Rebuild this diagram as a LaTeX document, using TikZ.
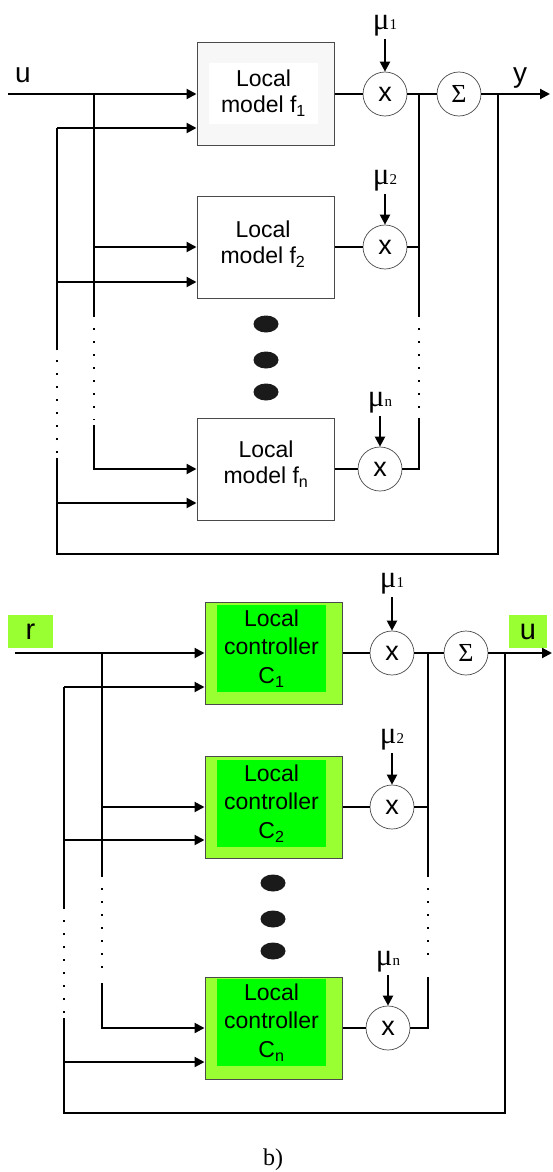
\documentclass[tikz,border=0pt]{standalone}
\usepackage{fontspec}
\setmainfont{Liberation Sans}
\newfontfamily\serif{Liberation Serif}
\usetikzlibrary{arrows.meta}

\definecolor{ctrlouter}{HTML}{99FF33}
\definecolor{ctrlinner}{HTML}{00FF00}
\definecolor{rimgray}{HTML}{4A4A4A}
\definecolor{blobgray}{HTML}{1A1A1A}

\newcommand*{\boxfont}{\fontsize{23}{26}\selectfont}
\newcommand*{\ctrlfont}{\fontsize{23}{28.5}\selectfont}
\newcommand*{\mulabel}[1]{{\serif\fontsize{31}{31}\selectfont μ}{\serif\fontsize{15}{15}\selectfont #1}}

\begin{document}
\begin{tikzpicture}
[
	x=1pt, y=-1pt,
	sig/.style={line width=2.1pt},
	dotline/.style={line width=2.1pt, dash pattern=on 2pt off 11pt},
	modelbox/.style={draw=rimgray, line width=1pt, fill=white, minimum width=137pt, minimum height=102pt, inner sep=0pt},
	ctrlbox/.style={modelbox, fill=ctrlouter},
	modeltext/.style={inner sep=0pt, minimum width=109pt, minimum height=60pt, align=center, font=\boxfont},
	ctrltext/.style={fill=ctrlinner, inner sep=0pt, minimum width=109pt, minimum height=87pt, align=center, font=\ctrlfont},
	mulnode/.style={circle, draw=rimgray, line width=0.7pt, fill=white, minimum size=44pt, inner sep=0pt, font=\fontsize{27}{27}\selectfont},
	sumnode/.style={mulnode, font=\serif\fontsize{26}{26}\selectfont},
	mulab/.style={anchor=south, inner sep=3pt},
	iolab/.style={inner sep=0pt, font=\fontsize{28}{28}\selectfont},
	greenlab/.style={fill=ctrlouter, font=\fontsize{29}{29}\selectfont},
	>={Triangle[length=10pt,width=10pt]}
]
	\useasboundingbox (0,0) rectangle (552,1172);

	% ===== a) local models =====
	\coordinate (uin) at (8,94);
	\node[iolab] (ulab) at (23,75) {u};
	\coordinate (yout) at (550,94);
	\node[iolab] (ylab) at (520,78) {y};

	% model boxes
	\node[modelbox, fill=gray!6] (model1) at (265.5,94) {};
	\node[modeltext, fill=white] (model1txt) at (263.5,93.5) {Local\\model f\textsubscript{1}};
	\node[modelbox] (model2) at (265.5,247) {};
	\node[modeltext] (model2txt) at (263,244) {Local\\model f\textsubscript{2}};
	\node[modelbox] (modeln) at (265.5,469) {};
	\node[modeltext] (modelntxt) at (266,464) {Local\\model f\textsubscript{n}};

	% multipliers and sum
	\node[mulnode] (mult1) at (385,94) {x};
	\node[mulnode] (mult2) at (385,247) {x};
	\node[mulnode] (multn) at (380,469) {x};
	\node[sumnode] (sum1) at (459,94) {Σ};

	% weights
	\node[mulab] (mu1) at (385,39) {\mulabel{1}};
	\node[mulab] (mu2) at (385,194) {\mulabel{2}};
	\node[mulab] (mun) at (380,416) {\mulabel{n}};
	\draw[sig,->] (mu1) -- (mult1);
	\draw[sig,->] (mu2) -- (mult2);
	\draw[sig,->] (mun) -- (multn);

	% forward path
	\draw[sig,->] (uin) -- (model1.west);
	\draw[sig] (model1.east) -- (mult1.west);
	\draw[sig] (model2.east) -- (mult2.west);
	\draw[sig] (modeln.east) -- (multn.west);
	\draw[sig] (mult1.east) -- (sum1.west);
	\draw[sig,->] (sum1.east) -- (yout);

	% input bus
	\coordinate (ubus1) at (94,94);
	\coordinate (ubus2) at (94,315);
	\coordinate (ubus3) at (94,420);
	\coordinate (ubus4) at (94,425);
	\draw[sig] (ubus1) -- (ubus2);
	\draw[dotline] (ubus2) -- (ubus3);
	\draw[sig,->] (ubus1 |- model2.west) -- (model2.west);
	\draw[sig,->] (ubus4) |- (modeln.west);

	% sum bus
	\coordinate (sbus1) at (419,94);
	\coordinate (sbus2) at (419,315);
	\coordinate (sbus3) at (419,408);
	\coordinate (sbus4) at (419,418);
	\draw[sig] (sbus1) -- (sbus2);
	\draw[dotline] (sbus2) -- (sbus3);
	\draw[sig] (mult2.east) -- (mult2.east -| sbus1);
	\draw[sig] (sbus4) |- (multn.east);

	% feedback
	\coordinate (ytap) at (498,94);
	\coordinate (fbbot) at (57,554);
	\coordinate (fb1) at (57,128);
	\coordinate (fb2) at (57,350);
	\coordinate (fb3) at (57,453);
	\coordinate (fb4) at (57,458);
	\coordinate (fbin2) at (57,282);
	\coordinate (fbinn) at (57,503);
	\draw[sig] (ytap) |- (fbbot) -- (fb4);
	\draw[dotline] (fb3) -- (fb2);
	\draw[sig] (fb2) -- (fb1);
	\draw[sig,->] (fb1) -- (fb1 -| model1.west);
	\draw[sig,->] (fbin2) -- (fbin2 -| model2.west);
	\draw[sig,->] (fbinn) -- (fbinn -| modeln.west);

	% more models
	\fill[blobgray] (266,324) ellipse (12.5pt and 8.5pt);
	\fill[blobgray] (266,360) ellipse (12.5pt and 8.5pt);
	\fill[blobgray] (266,392) ellipse (12.5pt and 8.5pt);

	% ===== b) local controllers =====
	\coordinate (rin) at (15,653);
	\node[iolab, greenlab, minimum width=45pt, minimum height=33pt] (rlab) at (30.5,631.5) {r};
	\coordinate (uout) at (552,653);
	\node[iolab, greenlab, minimum width=38pt, minimum height=33pt] (uoutlab) at (528,631.5) {u};

	% controller boxes
	\node[ctrlbox] (ctrl1) at (273.5,653) {};
	\node[ctrltext] (ctrl1txt) at (271.5,648.5) {Local\\controller\\C\textsubscript{1}};
	\node[ctrlbox] (ctrl2) at (273.5,807) {};
	\node[ctrltext] (ctrl2txt) at (271.5,803.5) {Local\\controller\\C\textsubscript{2}};
	\node[ctrlbox] (ctrln) at (273.5,1028) {};
	\node[ctrltext] (ctrlntxt) at (271.5,1022.5) {Local\\controller\\C\textsubscript{n}};

	% multipliers and sum
	\node[mulnode] (cmult1) at (392,653) {x};
	\node[mulnode] (cmult2) at (392,807) {x};
	\node[mulnode] (cmultn) at (388,1028) {x};
	\node[sumnode] (csum) at (466,653) {Σ};

	% weights
	\node[mulab] (cmu1) at (392,597) {\mulabel{1}};
	\node[mulab] (cmu2) at (392,753) {\mulabel{2}};
	\node[mulab] (cmun) at (388,975) {\mulabel{n}};
	\draw[sig,->] (cmu1) -- (cmult1);
	\draw[sig,->] (cmu2) -- (cmult2);
	\draw[sig,->] (cmun) -- (cmultn);

	% forward path
	\draw[sig,->] (rin) -- (ctrl1.west);
	\draw[sig] (ctrl1.east) -- (cmult1.west);
	\draw[sig] (ctrl2.east) -- (cmult2.west);
	\draw[sig] (ctrln.east) -- (cmultn.west);
	\draw[sig] (cmult1.east) -- (csum.west);
	\draw[sig,->] (csum.east) -- (uout);

	% reference bus
	\coordinate (rbus1) at (102,653);
	\coordinate (rbus2) at (102,875);
	\coordinate (rbus3) at (102,978);
	\coordinate (rbus4) at (102,983);
	\draw[sig] (rbus1) -- (rbus2);
	\draw[dotline] (rbus2) -- (rbus3);
	\draw[sig,->] (rbus1 |- ctrl2.west) -- (ctrl2.west);
	\draw[sig,->] (rbus4) |- (ctrln.west);

	% sum bus
	\coordinate (csbus1) at (428,653);
	\coordinate (csbus2) at (428,875);
	\coordinate (csbus3) at (428,965);
	\coordinate (csbus4) at (428,977);
	\draw[sig] (csbus1) -- (csbus2);
	\draw[dotline] (csbus2) -- (csbus3);
	\draw[sig] (cmult2.east) -- (cmult2.east -| csbus1);
	\draw[sig] (csbus4) |- (cmultn.east);

	% feedback
	\coordinate (utap) at (505,653);
	\coordinate (cfbbot) at (64,1113);
	\coordinate (cfb1) at (64,687);
	\coordinate (cfb2) at (64,909);
	\coordinate (cfb3) at (64,1013);
	\coordinate (cfb4) at (64,1018);
	\coordinate (cfbin2) at (64,840);
	\coordinate (cfbinn) at (64,1062);
	\draw[sig] (utap) |- (cfbbot) -- (cfb4);
	\draw[dotline] (cfb3) -- (cfb2);
	\draw[sig] (cfb2) -- (cfb1);
	\draw[sig,->] (cfb1) -- (cfb1 -| ctrl1.west);
	\draw[sig,->] (cfbin2) -- (cfbin2 -| ctrl2.west);
	\draw[sig,->] (cfbinn) -- (cfbinn -| ctrln.west);

	% more controllers
	\fill[blobgray] (273,883) ellipse (12.5pt and 8.5pt);
	\fill[blobgray] (273,919) ellipse (12.5pt and 8.5pt);
	\fill[blobgray] (273,951) ellipse (12.5pt and 8.5pt);

	% caption
	\node[font=\serif\fontsize{24}{24}\selectfont] (caption) at (273,1160) {b)};

\end{tikzpicture}
\end{document}
